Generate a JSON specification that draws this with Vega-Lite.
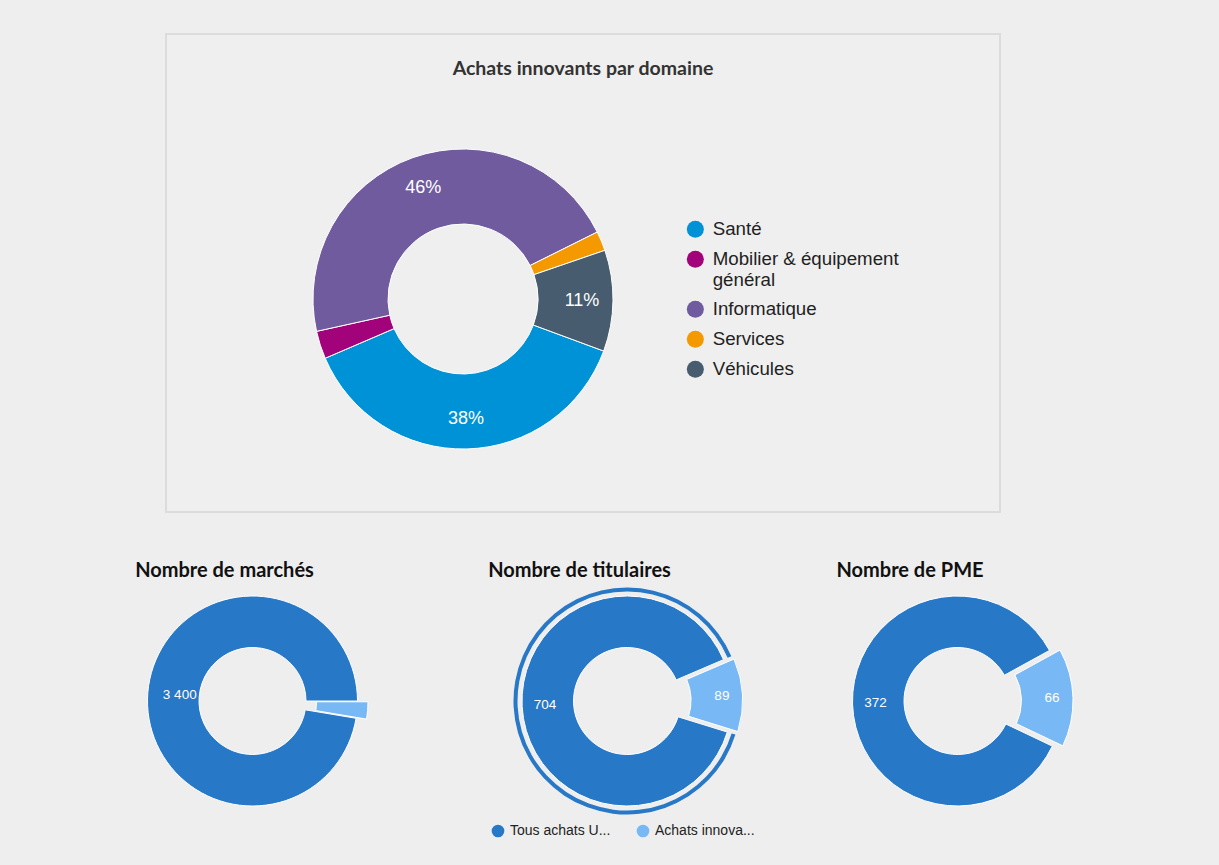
{
  "$schema": "https://vega.github.io/schema/vega-lite/v6.json",
  "background": "#eeeeee",
  "padding": {"left": 135, "top": 33, "right": 146, "bottom": 27},
  "config": {
    "view": {"stroke": null},
    "font": "Liberation Sans",
    "locale": {"number": {"decimal": ",", "thousands": " ", "grouping": [3], "currency": ["", " €"]}}
  },
  "datasets": {
    "domaines": [
      {"domaine": "Santé", "part": 0.379, "ordre": 1},
      {"domaine": "Mobilier & équipement général", "part": 0.030, "ordre": 2},
      {"domaine": "Informatique", "part": 0.461, "ordre": 3},
      {"domaine": "Services", "part": 0.021, "ordre": 4},
      {"domaine": "Véhicules", "part": 0.109, "ordre": 5}
    ],
    "marches": [
      {"serie": "Achats innovants", "valeur": 92, "ordre": 1},
      {"serie": "Tous achats UGAP", "valeur": 3400, "ordre": 2}
    ],
    "titulaires": [
      {"serie": "Achats innovants", "valeur": 89, "ordre": 1},
      {"serie": "Tous achats UGAP", "valeur": 704, "ordre": 2}
    ],
    "pme": [
      {"serie": "Achats innovants", "valeur": 66, "ordre": 1},
      {"serie": "Tous achats UGAP", "valeur": 372, "ordre": 2}
    ]
  },
  "bounds": "flush",
  "spacing": 75,
  "resolve": {
    "scale": {"color": "independent", "theta": "independent"},
    "legend": {"color": "independent"}
  },
  "vconcat": [
    {
      "data": {"name": "domaines"},
      "width": 834,
      "height": 478,
      "view": {"stroke": "#dcdcdc", "strokeWidth": 2, "fill": "#efefef"},
      "title": {
        "text": "Achats innovants par domaine",
        "font": "Lato", "fontSize": 19.5, "fontWeight": "bold", "color": "#333333",
        "anchor": "middle", "baseline": "alphabetic", "offset": -60
      },
      "encoding": {
        "theta": {"field": "part", "type": "quantitative", "stack": true, "scale": {"range": [1.9251, 8.2083]}},
        "order": {"field": "ordre", "type": "quantitative"}
      },
      "layer": [
        {
          "mark": {"type": "arc", "outerRadius": 150, "innerRadius": 75, "stroke": "#ffffff", "strokeWidth": 1, "xOffset": -120, "yOffset": 26},
          "encoding": {
            "color": {
              "field": "domaine", "type": "nominal",
              "scale": {
                "domain": ["Santé", "Mobilier & équipement général", "Informatique", "Services", "Véhicules"],
                "range": ["#0092d6", "#a2037a", "#705b9e", "#f49a00", "#475d6f"]
              },
              "legend": {
                "orient": "none", "legendX": 520, "legendY": 186, "title": null,
                "labelFont": "Liberation Sans", "labelFontSize": 18.7, "labelColor": "#222222",
                "symbolType": "circle", "symbolSize": 289, "symbolStrokeWidth": 0,
                "rowPadding": 10, "labelOffset": 8, "labelLimit": 400,
                "labelExpr": "datum.label == 'Mobilier & équipement général' ? ['Mobilier & équipement', 'général'] : datum.label"
              }
            }
          }
        },
        {
          "mark": {"type": "text", "radius": 119, "xOffset": -120, "yOffset": 27, "fontSize": 18, "font": "Liberation Sans", "baseline": "middle", "align": "center"},
          "encoding": {
            "detail": {"field": "domaine", "type": "nominal"},
            "color": {"value": "#ffffff"},
            "text": {"condition": {"test": "datum.part >= 0.05", "field": "part", "type": "quantitative", "format": ".0%"}, "value": ""}
          }
        }
      ]
    },
    {
      "bounds": "flush",
      "spacing": 174,
      "resolve": {
        "scale": {"color": "independent", "theta": "independent"},
        "legend": {"color": "independent"}
      },
      "hconcat": [
        {
          "data": {"name": "marches"},
          "width": 173,
          "height": 228,
          "title": {
            "text": "Nombre de marchés",
            "font": "Lato", "fontSize": 20, "fontWeight": "bold", "color": "#111111",
            "anchor": "middle", "baseline": "alphabetic", "offset": -10, "dx": -28
          },
          "encoding": {
            "theta": {"field": "valeur", "type": "quantitative", "stack": true, "scale": {"range": [1.5708, 7.854]}},
            "order": {"field": "ordre", "type": "quantitative"},
            "color": {"field": "serie", "type": "nominal", "scale": {"domain": ["Tous achats UGAP", "Achats innovants"], "range": ["#2778c7", "#78b8f4"]}, "legend": null}
          },
          "layer": [
            {
              "mark": {"type": "arc", "outerRadius": 105, "innerRadius": 53.5, "stroke": "#ffffff", "strokeWidth": 1},
              "encoding": {"opacity": {"condition": {"test": "datum.serie === 'Achats innovants'", "value": 0}, "value": 1}}
            },
            {
              "mark": {"type": "arc", "outerRadius": 105, "innerRadius": 53.5, "stroke": "#ffffff", "strokeWidth": 1, "xOffset": 10.5, "yOffset": 0.8},
              "encoding": {"opacity": {"condition": {"test": "datum.serie === 'Tous achats UGAP'", "value": 0}, "value": 1}}
            },
            {
              "mark": {"type": "text", "radius": 73, "fontSize": 13.5, "baseline": "middle", "align": "center"},
              "encoding": {
                "detail": {"field": "serie", "type": "nominal"},
                "color": {"value": "#ffffff"},
                "text": {"condition": {"test": "datum.serie === 'Tous achats UGAP'", "field": "valeur", "type": "quantitative", "format": ",d"}, "value": ""}
              }
            }
          ]
        },
        {
          "data": {"name": "titulaires"},
          "width": 228,
          "height": 228,
          "title": {
            "text": "Nombre de titulaires",
            "font": "Lato", "fontSize": 20, "fontWeight": "bold", "color": "#111111",
            "anchor": "middle", "baseline": "alphabetic", "offset": -10, "dx": -47.5
          },
          "encoding": {
            "theta": {"field": "valeur", "type": "quantitative", "stack": true, "scale": {"range": [1.1659, 7.4491]}},
            "order": {"field": "ordre", "type": "quantitative"},
            "color": {
              "field": "serie", "type": "nominal",
              "scale": {"domain": ["Tous achats UGAP", "Achats innovants"], "range": ["#2778c7", "#78b8f4"]},
              "legend": {
                "orient": "none", "direction": "horizontal", "legendX": -22, "legendY": 237, "title": null,
                "labelFont": "Liberation Sans", "labelFontSize": 14, "labelColor": "#222222",
                "symbolType": "circle", "symbolSize": 160, "symbolStrokeWidth": 0,
                "columnPadding": 25, "labelOffset": 5, "labelLimit": 200,
                "labelExpr": "slice(datum.label, 0, 13) + '...'"
              }
            }
          },
          "layer": [
            {
              "mark": {"type": "arc", "outerRadius": 113.5, "innerRadius": 109.5},
              "encoding": {"opacity": {"condition": {"test": "datum.serie === 'Achats innovants'", "value": 0}, "value": 1}}
            },
            {
              "mark": {"type": "arc", "outerRadius": 105, "innerRadius": 53.5, "stroke": "#ffffff", "strokeWidth": 1},
              "encoding": {"opacity": {"condition": {"test": "datum.serie === 'Achats innovants'", "value": 0}, "value": 1}}
            },
            {
              "mark": {"type": "arc", "outerRadius": 105, "innerRadius": 53.5, "stroke": "#ffffff", "strokeWidth": 1, "xOffset": 10.5, "yOffset": -0.55},
              "encoding": {"opacity": {"condition": {"test": "datum.serie === 'Tous achats UGAP'", "value": 0}, "value": 1}}
            },
            {
              "mark": {"type": "text", "radius": 82, "fontSize": 13.5, "baseline": "middle", "align": "center"},
              "encoding": {
                "detail": {"field": "serie", "type": "nominal"},
                "color": {"value": "#ffffff"},
                "text": {"condition": {"test": "datum.serie === 'Tous achats UGAP'", "field": "valeur", "type": "quantitative", "format": ",d"}, "value": ""}
              }
            },
            {
              "mark": {"type": "text", "radius": 82, "fontSize": 13.5, "baseline": "middle", "align": "center", "xOffset": 13, "yOffset": -0.55},
              "encoding": {
                "detail": {"field": "serie", "type": "nominal"},
                "color": {"value": "#ffffff"},
                "text": {"condition": {"test": "datum.serie === 'Achats innovants'", "field": "valeur", "type": "quantitative", "format": ",d"}, "value": ""}
              }
            }
          ]
        },
        {
          "data": {"name": "pme"},
          "width": 85,
          "height": 228,
          "title": {
            "text": "Nombre de PME",
            "font": "Lato", "fontSize": 20, "fontWeight": "bold", "color": "#111111",
            "anchor": "middle", "baseline": "alphabetic", "offset": -10, "dx": -47.5
          },
          "encoding": {
            "theta": {"field": "valeur", "type": "quantitative", "stack": true, "scale": {"range": [1.0681, 7.3513]}},
            "order": {"field": "ordre", "type": "quantitative"},
            "color": {"field": "serie", "type": "nominal", "scale": {"domain": ["Tous achats UGAP", "Achats innovants"], "range": ["#2778c7", "#78b8f4"]}, "legend": null}
          },
          "layer": [
            {
              "mark": {"type": "arc", "outerRadius": 105, "innerRadius": 53.5, "stroke": "#ffffff", "strokeWidth": 1},
              "encoding": {"opacity": {"condition": {"test": "datum.serie === 'Achats innovants'", "value": 0}, "value": 1}}
            },
            {
              "mark": {"type": "arc", "outerRadius": 105, "innerRadius": 53.5, "stroke": "#ffffff", "strokeWidth": 1, "xOffset": 10.5, "yOffset": -0.3},
              "encoding": {"opacity": {"condition": {"test": "datum.serie === 'Tous achats UGAP'", "value": 0}, "value": 1}}
            },
            {
              "mark": {"type": "text", "radius": 82, "fontSize": 13.5, "baseline": "middle", "align": "center"},
              "encoding": {
                "detail": {"field": "serie", "type": "nominal"},
                "color": {"value": "#ffffff"},
                "text": {"condition": {"test": "datum.serie === 'Tous achats UGAP'", "field": "valeur", "type": "quantitative", "format": ",d"}, "value": ""}
              }
            },
            {
              "mark": {"type": "text", "radius": 82, "fontSize": 13.5, "baseline": "middle", "align": "center", "xOffset": 12.5, "yOffset": -0.3},
              "encoding": {
                "detail": {"field": "serie", "type": "nominal"},
                "color": {"value": "#ffffff"},
                "text": {"condition": {"test": "datum.serie === 'Achats innovants'", "field": "valeur", "type": "quantitative", "format": ",d"}, "value": ""}
              }
            }
          ]
        }
      ]
    }
  ]
}
